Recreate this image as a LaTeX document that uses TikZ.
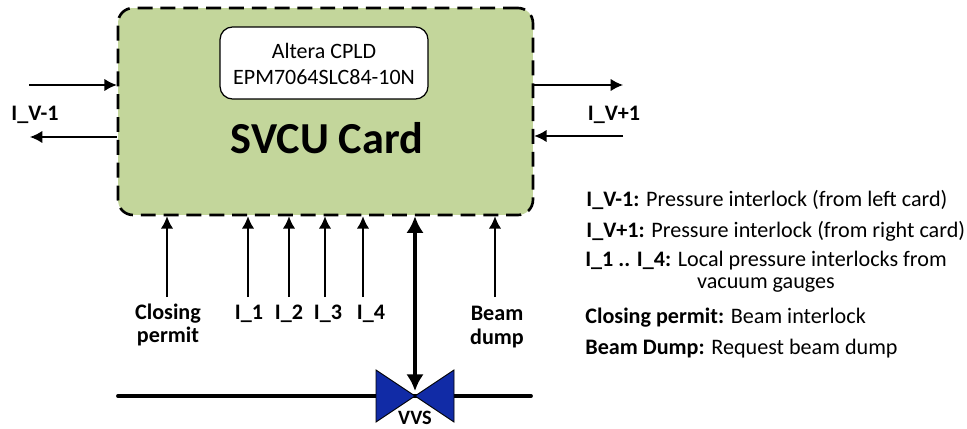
\documentclass[tikz,border=0pt]{standalone}
\usepackage{fontspec}
\setmainfont{Carlito}
\usetikzlibrary{arrows.meta}
\definecolor{cardgreen}{HTML}{C3D69B}
\definecolor{valveblue}{HTML}{112BA6}
\tikzset{
	sig/.style={line width=0.8pt,-{Latex[length=7pt,width=7pt]}},
	bus/.style={line width=2.2pt,{Latex[length=9.5pt,width=10pt]}-{Latex[length=9.5pt,width=10pt]}},
	pipe/.style={line width=2.2pt,line cap=round},
	blade/.style={draw=black,line width=0.5pt,fill=valveblue},
	lbl/.style={font=\fontsize{12.6pt}{13.2pt}\selectfont\bfseries,align=center,inner sep=0pt},
	txt/.style={font=\fontsize{12.6pt}{12.6pt}\selectfont,align=center,inner sep=0pt}
}
\begin{document}
\begin{tikzpicture}[x=0.02cm,y=-0.02cm]
	\useasboundingbox (0,0) rectangle (967,429);
	% Card
	\node[draw,fill=cardgreen,line width=1.5pt,dash pattern=on 8.5pt off 4.5pt,rounded corners=0.3cm,minimum width=8.3cm,minimum height=4.14cm,inner sep=0pt] (card) at (325.5,111.5) {};
	\node[draw,fill=white,line width=0.7pt,rounded corners=0.25cm,minimum width=4.16cm,minimum height=1.44cm,inner sep=0pt] (cpld) at (324,63) {};
	\node[txt,font=\fontsize{12.5pt}{14.8pt}\selectfont] (cpldtext) at (324,64) {Altera CPLD\\EPM7064SLC84-10N};
	\node[font=\fontsize{25.2pt}{28pt}\selectfont\bfseries,inner sep=0pt] (title) at (327,138) {SVCU Card};

	% Left and right interlocks
	\coordinate (leftin) at (29,85);
	\coordinate (leftout) at (30,137);
	\coordinate (rightout) at (623,85);
	\coordinate (rightin) at (623,136);
	\draw[sig] (leftin) -- (leftin -| card.west);
	\draw[sig] (leftout -| card.west) -- (leftout);
	\draw[sig] (rightout -| card.east) -- (rightout);
	\draw[sig] (rightin) -- (rightin -| card.east);
	\node[lbl] (ivleft) at (35,115) {I\_V-1};
	\node[lbl] (ivright) at (614,115) {I\_V+1};

	% Inputs from below
	\coordinate (permit) at (167,297);
	\coordinate (ione) at (248,297);
	\coordinate (itwo) at (289,297);
	\coordinate (ithree) at (325,297);
	\coordinate (ifour) at (363,297);
	\coordinate (dump) at (495,297);
	\draw[sig] (permit) -- (permit |- card.south);
	\draw[sig] (ione) -- (ione |- card.south);
	\draw[sig] (itwo) -- (itwo |- card.south);
	\draw[sig] (ithree) -- (ithree |- card.south);
	\draw[sig] (ifour) -- (ifour |- card.south);
	\draw[sig] (dump) -- (dump |- card.south);
	\node[lbl] (permitlabel) at (168,325) {Closing\\permit};
	\node[lbl] (ilabelone) at (249,314) {I\_1};
	\node[lbl] (ilabeltwo) at (289,314) {I\_2};
	\node[lbl] (ilabelthree) at (328,314) {I\_3};
	\node[lbl] (ilabelfour) at (371,314) {I\_4};
	\node[lbl] (dumplabel) at (497,327) {Beam\\dump};

	% Valve
	\coordinate (valve) at (415,396);
	\draw[pipe] (118,396) -- (valve) -- (531,396);
	\draw[blade] (valve) -- (376,370) -- (376,422) -- cycle;
	\draw[blade] (valve) -- (454,370) -- (454,422) -- cycle;
	\draw[bus] (valve |- card.south) -- ([yshift=0.1cm]valve);
	\node[lbl,font=\fontsize{11.6pt}{12pt}\selectfont\bfseries] (vvs) at (415,418) {VVS};

	% Legend
	\node[txt,anchor=west] (keyone) at (586,200) {\textbf{I\_V-1:} Pressure interlock (from left card)};
	\node[txt,anchor=west] (keytwo) at (586,231) {\textbf{I\_V+1:} Pressure interlock (from right card)};
	\node[txt] (keythree) at (766,272) {\textbf{I\_1 .. I\_4:} Local pressure interlocks from\\vacuum gauges};
	\node[txt,anchor=west] (keyfour) at (585,318) {\textbf{Closing permit:} Beam interlock};
	\node[txt,anchor=west] (keyfive) at (585,349) {\textbf{Beam Dump:} Request beam dump};
\end{tikzpicture}
\end{document}
